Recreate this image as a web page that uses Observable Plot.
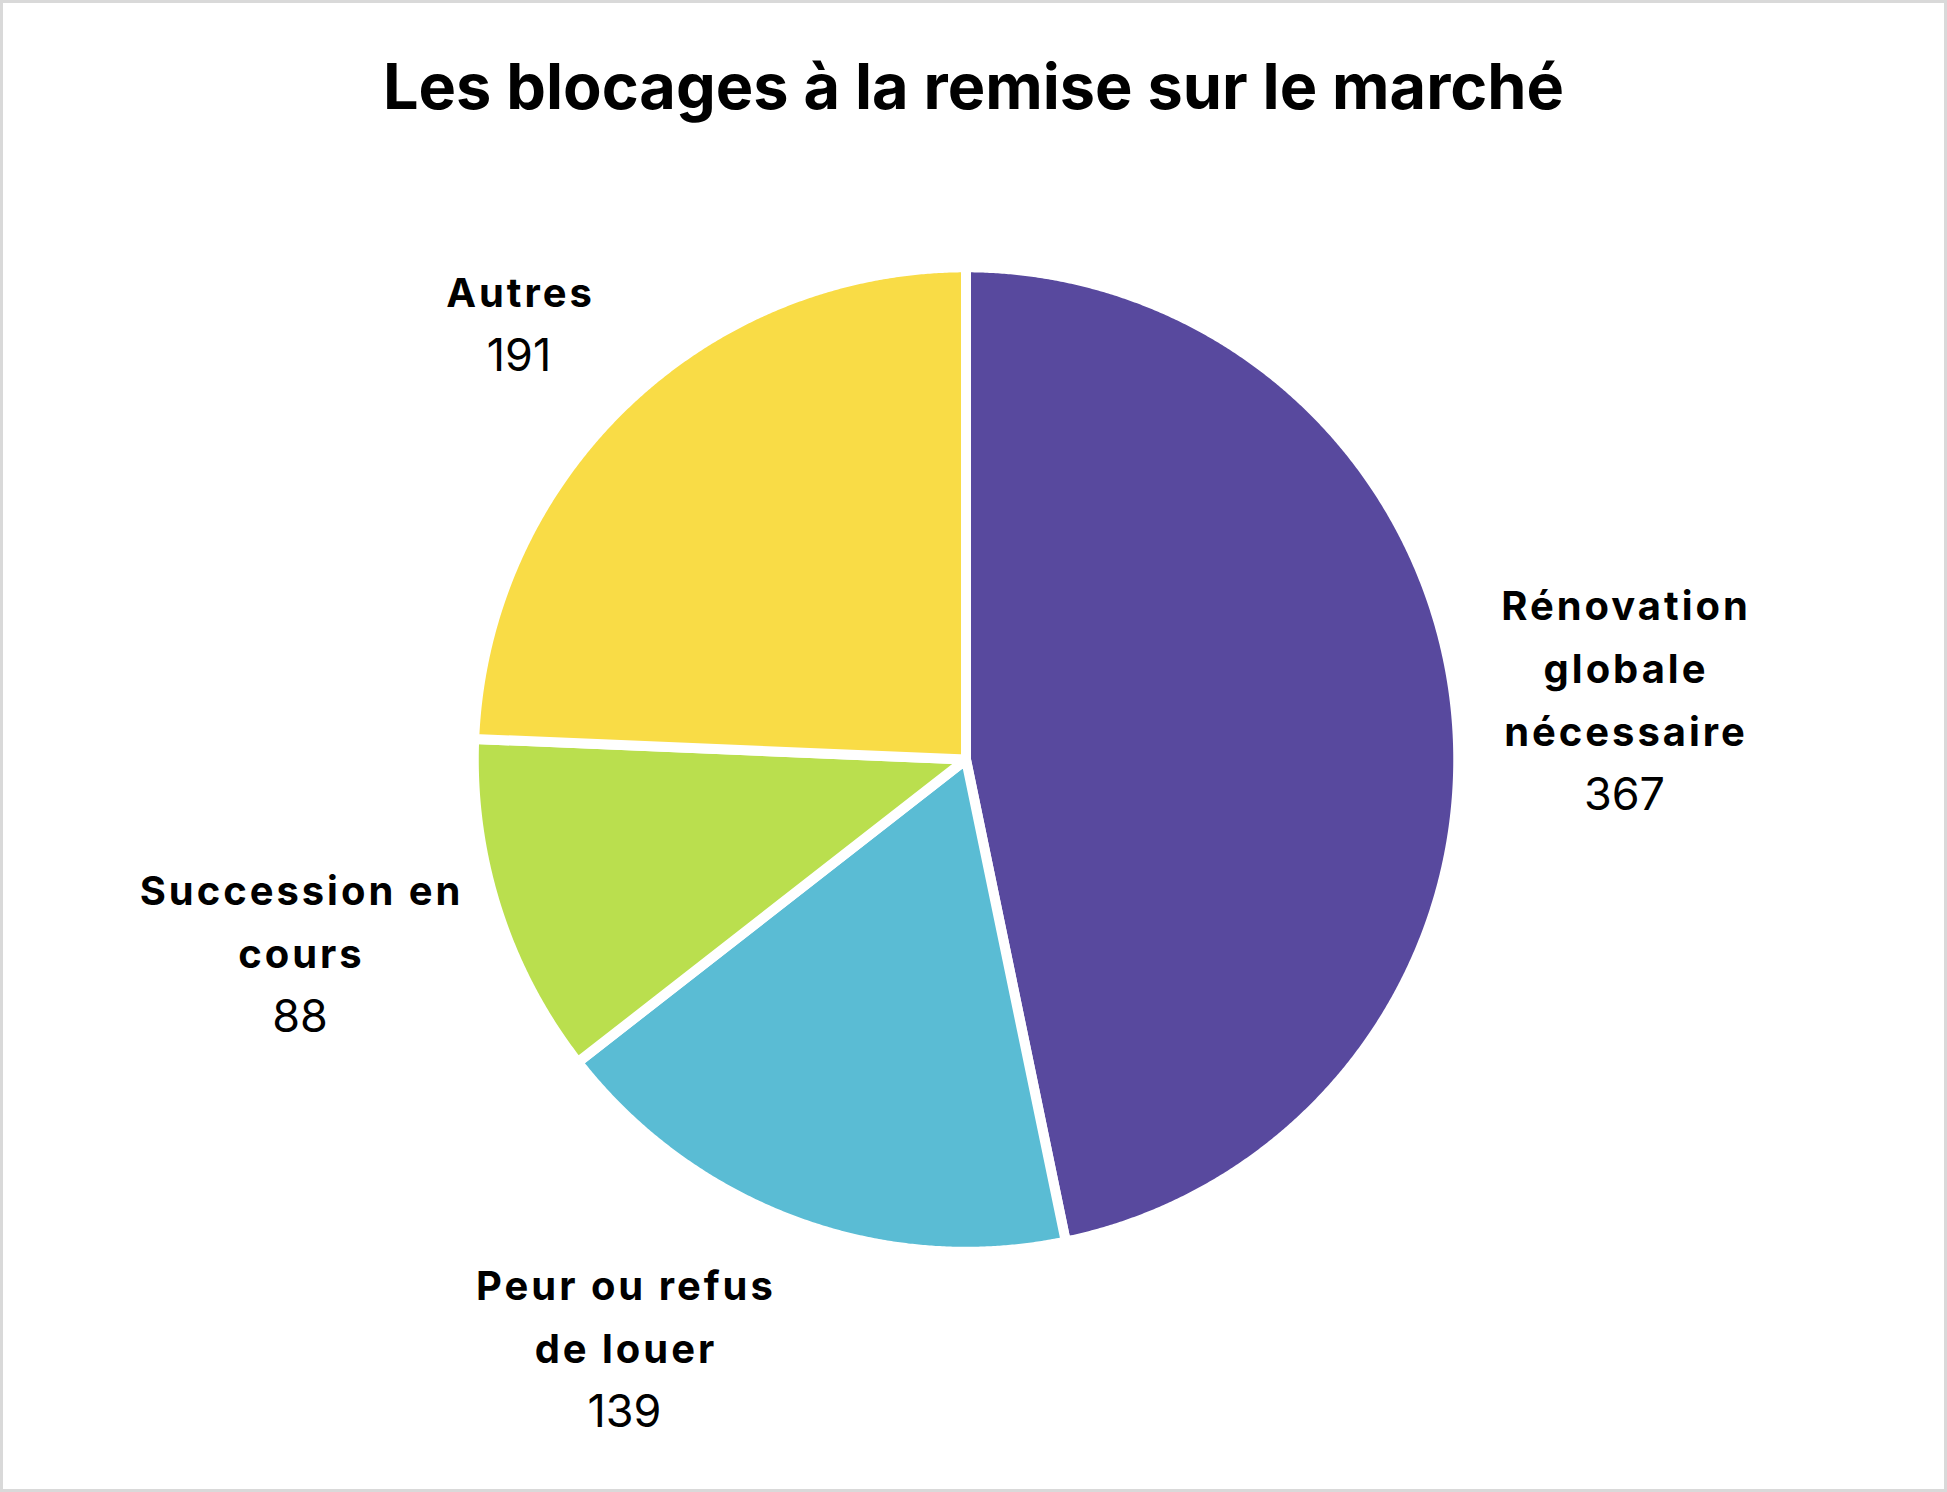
<!DOCTYPE html>
<html><head><meta charset="utf-8">
<script src="https://cdn.jsdelivr.net/npm/d3@7"></script>
<script src="https://cdn.jsdelivr.net/npm/@observablehq/plot@0.6"></script>
<style>
html,body{margin:0;padding:0;background:#fff;}
#frame{position:relative;width:1947px;height:1492px;box-sizing:border-box;border:3px solid #d9d9d9;background:#fff;overflow:hidden;}
#title{position:absolute;left:0;width:100%;top:43px;height:80px;line-height:80px;text-align:center;font-family:Inter,Lato,sans-serif;font-weight:700;font-size:63px;color:#000;}
#chart{position:absolute;left:-3px;top:157px;}
</style>
</head><body>
<div id="frame">
  <div id="title">Les blocages à la remise sur le marché</div>
  <div id="chart"></div>
</div>
<script>
// ---- data ----
const categories = ["Rénovation globale nécessaire", "Peur ou refus de louer", "Succession en cours", "Autres"];
const values = [367, 139, 88, 191];
const labelNames = ["Rénovation\nglobale\nnécessaire", "Peur ou refus\nde louer", "Succession en\ncours", "Autres"];
const colors = ["#58499e", "#5abcd4", "#badf4e", "#f9dc46"];

// ---- layout ----
const W = 1947, H = 1332;
const cx = 967, cy = 600, R = 493;
const labelRadius = 670;
const labelShift = [[-7, 10], [-111, -38], [-29, -9], [16, 49]];
const fontSize = 40, valueSize = 45, lineH = 63;

const arcs = d3.pie().sort(null).startAngle(0).endAngle(2 * Math.PI)(values);

// polygon outlines of the slices (geometry derived from the pie angles)
const poly = [];
arcs.forEach((a, i) => {
  const cat = categories[i];
  poly.push({cat, x: 0, y: 0});
  const n = Math.max(2, Math.ceil((a.endAngle - a.startAngle) / (Math.PI / 720)));
  for (let k = 0; k <= n; k++) {
    const t = a.startAngle + (a.endAngle - a.startAngle) * k / n;
    poly.push({cat, x: R * Math.sin(t), y: -R * Math.cos(t)});
  }
});

const labels = arcs.map((a, i) => {
  const m = (a.startAngle + a.endAngle) / 2;
  const ax = labelRadius * Math.sin(m) + labelShift[i][0];
  const ay = -labelRadius * Math.cos(m) + labelShift[i][1];
  const nl = labelNames[i].split("\n").length;
  return {
    name: labelNames[i],
    value: String(values[i]),
    x: ax,
    yName: ay - lineH / 2 - 7,
    yValue: ay + nl * lineH / 2
  };
});

const chart = Plot.plot({
  width: W, height: H,
  margin: 0,
  style: {background: "transparent", fontFamily: "Inter, Lato, sans-serif"},
  x: {domain: [-R, R], range: [cx - R, cx + R], axis: null},
  y: {domain: [-R, R], range: [cy - R, cy + R], axis: null},
  color: {domain: categories, range: colors},
  marks: [
    Plot.line(poly, {x: "x", y: "y", z: "cat", fill: "cat", stroke: "#fff", strokeWidth: 10,
      strokeLinejoin: "round", curve: "linear-closed"}),
    Plot.text(labels, {x: "x", y: "yName", text: "name", fontSize, fontWeight: 700,
      lineHeight: lineH / fontSize, lineAnchor: "middle", fill: "#000",
      dx: 1.5, style: {letterSpacing: "3px"}}),
    Plot.text(labels, {x: "x", y: "yValue", text: "value", fontSize: valueSize, fontWeight: 400,
      lineAnchor: "middle", fill: "#000"})
  ]
});
chart.querySelectorAll("text").forEach(t => {
  if (t.getAttribute("font-weight") === "700" || t.closest("[font-weight='700']")) t.style.letterSpacing = "3px";
});
document.getElementById("chart").appendChild(chart);
</script>
</body></html>
